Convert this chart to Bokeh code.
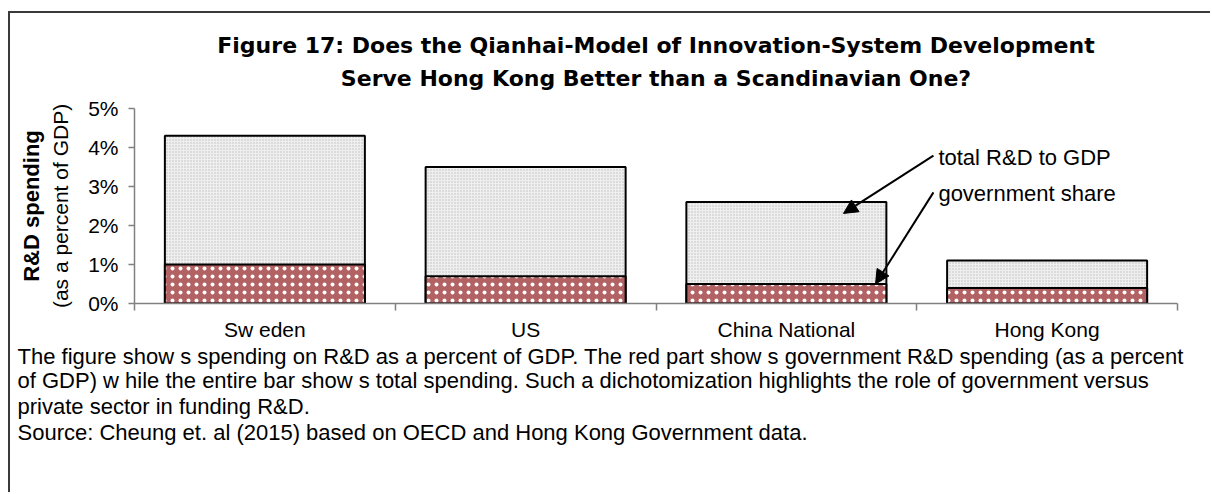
import numpy as np
from bokeh.plotting import figure
from bokeh.models import (Range1d, LinearAxis, FixedTicker, PrintfTickFormatter, Label,
                          Arrow, NormalHead, Title)
from bokeh.embed import file_html
from bokeh.resources import INLINE

# ---- data ----
categories = ["Sw eden", "US", "China National", "Hong Kong"]
total_rd = [4.3, 3.5, 2.6, 1.1]
gov_rd = [1.0, 0.7, 0.5, 0.4]
y_ticks = [0, 1, 2, 3, 4, 5]

title_lines = ["Figure 17: Does the Qianhai-Model of Innovation-System Development",
               "Serve Hong Kong Better than a Scandinavian One?"]
y_label_bold = "R&D spending"
y_label_normal = "(as a percent of GDP)"
annot_total = "total R&D to GDP"
annot_gov = "government share"
caption_lines = [
    "The figure show s spending on R&D as a percent of GDP. The red part show s government R&D spending (as a percent",
    "of GDP) w hile the entire bar show s total spending. Such a dichotomization highlights the role of government versus",
    "private sector in funding R&D.",
    "Source: Cheung et. al (2015) based on OECD and Hong Kong Government data.",
]

# arrow geometry in data units (x in category slots, y in percent)
arrow_total_xy = (3.064, 3.79, 2.719, 2.31)
arrow_gov_xy = (3.064, 2.85, 2.842, gov_rd[2])
annot_x = 3.083
annot_total_y = 3.74
annot_gov_y = 2.82

W, H = 1210, 492
FONT = "Liberation Sans"
BORDER = "#3a3a3a"

centers = np.arange(len(categories)) + 0.5

p = figure(width=W, height=H, output_backend="svg", toolbar_location=None,
           x_range=Range1d(0, len(categories)), y_range=Range1d(0, 5),
           x_axis_type=None, y_axis_type=None,
           min_border_left=134, min_border_right=W - 1177, min_border_top=108,
           min_border_bottom=H - 303)
p.outline_line_color = None
p.background_fill_color = None
p.border_fill_color = None
# outer box: top and left edges visible, the rest runs off the page
p.styles = {
    "background-color": "white",
    "background-image": f"linear-gradient({BORDER}, {BORDER}), linear-gradient({BORDER}, {BORDER})",
    "background-size": "100% 2px, 2px 100%",
    "background-position": "8px 11px, 8px 11px",
    "background-repeat": "no-repeat",
}

# y axis
yax = LinearAxis(ticker=FixedTicker(ticks=y_ticks, minor_ticks=[]),
                 formatter=PrintfTickFormatter(format="%d%%"))
yax.axis_line_color = "#808080"
yax.axis_line_width = 1.5
yax.major_tick_line_color = "#808080"
yax.major_tick_line_width = 1.5
yax.major_tick_out = 6
yax.major_tick_in = 0
yax.minor_tick_out = 0
yax.minor_tick_in = 0
yax.major_label_standoff = 10
yax.major_label_text_font = FONT
yax.major_label_text_font_size = "21px"
yax.major_label_text_color = "black"
yax.axis_label = y_label_normal
yax.axis_label_text_font = FONT
yax.axis_label_text_font_style = "normal"
yax.axis_label_text_font_size = "21px"
yax.axis_label_text_color = "black"
yax.axis_label_standoff = 13
p.add_layout(yax, "left")

yax2 = LinearAxis(ticker=FixedTicker(ticks=[], minor_ticks=[]))
yax2.axis_line_color = None
yax2.major_tick_line_color = None
yax2.minor_tick_line_color = None
yax2.major_tick_out = 0
yax2.major_label_standoff = 0
yax2.axis_label = y_label_bold
yax2.axis_label_text_font = FONT
yax2.axis_label_text_font_style = "bold"
yax2.axis_label_text_font_size = "22px"
yax2.axis_label_text_color = "black"
yax2.axis_label_standoff = 3
p.add_layout(yax2, "left")

# x axis: labels at centres, ticks at boundaries (minor ticks)
xax = LinearAxis(ticker=FixedTicker(ticks=list(centers),
                                    minor_ticks=list(range(len(categories) + 1))))
xax.major_label_overrides = {float(c): n for c, n in zip(centers, categories)}
xax.axis_line_color = "#808080"
xax.axis_line_width = 1.5
xax.major_tick_line_color = None
xax.major_tick_out = 0
xax.major_tick_in = 0
xax.minor_tick_line_color = "#808080"
xax.minor_tick_line_width = 1.5
xax.minor_tick_out = 7
xax.minor_tick_in = 0
xax.major_label_standoff = 7
xax.major_label_text_font = FONT
xax.major_label_text_font_size = "21px"
xax.major_label_text_color = "black"
p.add_layout(xax, "below")

# bars
p.vbar(x=centers, width=0.767, bottom=0, top=total_rd,
       fill_color="#efefef", hatch_pattern=".", hatch_color="#bdbdbd",
       hatch_scale=3, hatch_weight=1,
       line_color="black", line_width=2)
p.vbar(x=centers, width=0.767, bottom=0, top=gov_rd,
       fill_color="#b26262", hatch_pattern=".", hatch_color="white",
       hatch_scale=8, hatch_weight=1.2,
       line_color="black", line_width=2)

# arrows
for (xs, ys, xe, ye) in (arrow_total_xy, arrow_gov_xy):
    p.add_layout(Arrow(end=NormalHead(size=14, fill_color="black", line_color="black"),
                       x_start=xs, y_start=ys, x_end=xe, y_end=ye,
                       line_color="black", line_width=2))

for txt, yy in ((annot_total, annot_total_y), (annot_gov, annot_gov_y)):
    p.add_layout(Label(x=annot_x, y=yy, text=txt, text_font=FONT, text_font_size="22px",
                       text_align="left", text_baseline="middle", text_color="black"))


def make_title(text, standoff, fallback, **kw):
    try:
        return Title(text=text, standoff=standoff, **kw)
    except Exception:
        return Title(text=text, standoff=fallback, **kw)


# title: a thin spacer next to the frame, then line 2, then line 1
p.add_layout(Title(text=" ", standoff=9, text_font_size="1px", text_color="white"), "above")
for txt, so in zip(reversed(title_lines), (12, 0)):
    p.add_layout(Title(text=txt, align="center", standoff=so,
                       text_font="DejaVu Sans", text_font_style="bold", text_font_size="22px",
                       text_color="black"), "above")

# caption below the axis
for txt, so in zip(caption_lines, (-4, -1, -1, -2)):
    p.add_layout(make_title(txt, so, 0, align="left", offset=-117,
                            text_font=FONT, text_font_style="normal", text_font_size="22px",
                            text_color="black"), "below")

open("out.html", "w").write(file_html(p, INLINE))
